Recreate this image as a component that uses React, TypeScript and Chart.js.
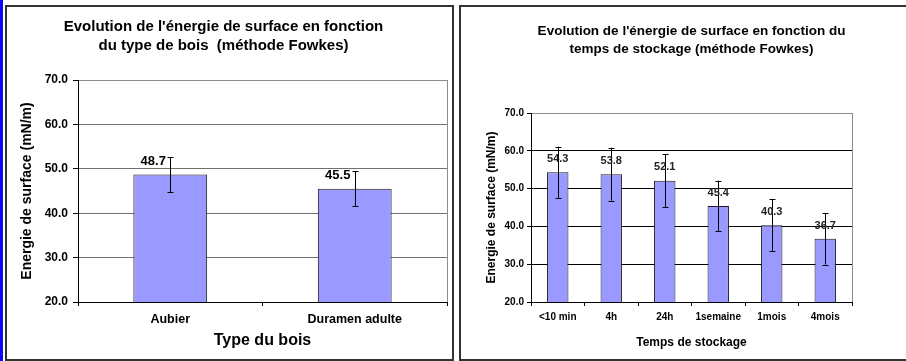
import React, { useEffect, useRef } from 'react';
import { Chart, registerables } from 'chart.js';

Chart.register(...registerables);

const FONT = '"Liberation Sans", Arial, Helvetica, sans-serif';

// ---- Data ----
const woodTypes = ['Aubier', 'Duramen adulte'];
const woodEnergy = [48.7, 45.5];
const woodError = [3.9, 3.9];

const storageTimes = ['<10 min', '4h', '24h', '1semaine', '1mois', '4mois'];
const storageEnergy = [54.3, 53.8, 52.1, 45.4, 40.3, 36.7];
const storageError = [6.8, 7.0, 7.0, 6.7, 6.9, 6.8];

const yMin = 20;
const yMax = 70;
const yStep = 10;

const leftTitle = ["Evolution de l'énergie de surface en fonction", 'du type de bois  (méthode Fowkes)'];
const rightTitle = ["Evolution de l'énergie de surface en fonction du", 'temps de stockage (méthode Fowkes)'];
const yTitle = 'Energie de surface (mN/m)';
const leftXTitle = 'Type du bois';
const rightXTitle = 'Temps de stockage';

// ---- Plugins ----
const errorBarPlugin = {
  id: 'errorBars',
  afterDatasetsDraw(chart: any, _args: any, opts: any) {
    const errs: number[] = opts.errors || [];
    const ctx = chart.ctx;
    const ys = chart.scales.y;
    const ds = chart.data.datasets[0];
    const meta = chart.getDatasetMeta(0);
    ctx.save();
    ctx.strokeStyle = '#000';
    ctx.lineWidth = 1;
    meta.data.forEach((bar: any, i: number) => {
      const v = ds.data[i] as number;
      const e = errs[i];
      if (e == null) return;
      const x = Math.round(bar.x) + 0.5 + (opts.dx || 0);
      const yt = ys.getPixelForValue(v + e);
      const yb = ys.getPixelForValue(v - e);
      const c = opts.cap || 3;
      ctx.beginPath();
      ctx.moveTo(x, yt);
      ctx.lineTo(x, yb);
      ctx.moveTo(x - c, Math.round(yt) + 0.5);
      ctx.lineTo(x + c, Math.round(yt) + 0.5);
      ctx.moveTo(x - c, Math.round(yb) + 0.5);
      ctx.lineTo(x + c, Math.round(yb) + 0.5);
      ctx.stroke();
    });
    ctx.restore();
  },
};

const barLabelPlugin = {
  id: 'barLabels',
  afterDraw(chart: any, _args: any, opts: any) {
    const ctx = chart.ctx;
    const ds = chart.data.datasets[0];
    const meta = chart.getDatasetMeta(0);
    ctx.save();
    ctx.font = opts.font;
    ctx.fillStyle = opts.color || '#000';
    ctx.textAlign = 'center';
    ctx.textBaseline = 'middle';
    meta.data.forEach((bar: any, i: number) => {
      const v = ds.data[i] as number;
      ctx.fillText(v.toFixed(1), bar.x + (opts.dx || 0), bar.y + (opts.dy || 0));
    });
    ctx.restore();
  },
};

type PanelOpts = {
  labels: string[];
  values: number[];
  errors: number[];
  title: string[];
  titleSize: number;
  titleLineHeight: number;
  titlePadTop: number;
  titlePadBottom: number;
  titleFullSize: boolean;
  xTitle: string;
  xTitleSize: number;
  xTitlePad: number;
  yTitleSize: number;
  yTitlePad: number;
  yTickSize: number;
  yTickLen: number;
  yTickPad: number;
  xTickSize: number;
  xTickPad: number;
  gridColor: string;
  padRight: number;
  labelFont: string;
  labelColor: string;
  labelDx: number;
  labelDy: number;
};

function makeConfig(p: PanelOpts): any {
  const frameColor = '#8c8c8c';
  return {
    type: 'bar',
    data: {
      labels: p.labels,
      datasets: [
        {
          data: p.values,
          backgroundColor: '#9999ff',
          borderColor: '#1a1a1a',
          borderWidth: 1,
          borderSkipped: 'bottom',
          barPercentage: 0.4,
          categoryPercentage: 1,
        },
      ],
    },
    options: {
      animation: false,
      responsive: false,
      maintainAspectRatio: false,
      layout: { padding: { top: 0, left: 0, bottom: 0, right: p.padRight } },
      plugins: {
        legend: { display: false },
        tooltip: { enabled: false },
        title: {
          display: true,
          text: p.title,
          color: '#000',
          fullSize: p.titleFullSize,
          font: { family: FONT, size: p.titleSize, weight: 'bold', lineHeight: p.titleLineHeight },
          padding: { top: p.titlePadTop, bottom: p.titlePadBottom },
        },
        errorBars: { errors: p.errors, cap: 3 },
        barLabels: { font: p.labelFont, color: p.labelColor, dx: p.labelDx, dy: p.labelDy },
      },
      scales: {
        x: {
          type: 'category',
          offset: true,
          afterFit(scale: any) {
            scale.height = 59;
          },
          grid: {
            offset: true,
            drawOnChartArea: true,
            drawTicks: true,
            tickLength: 4,
            tickColor: '#000',
            color: (c: any) => (c.index === undefined ? frameColor : 'rgba(0,0,0,0)'),
            lineWidth: 1,
          },
          border: { display: true, color: '#000', width: 1 },
          ticks: {
            color: '#000',
            padding: p.xTickPad,
            maxRotation: 0,
            autoSkip: false,
            font: { family: FONT, size: p.xTickSize, weight: 'bold' },
          },
          title: {
            display: true,
            text: p.xTitle,
            color: '#000',
            font: { family: FONT, size: p.xTitleSize, weight: 'bold', lineHeight: 1.2 },
            padding: { top: 0, bottom: p.xTitlePad },
          },
        },
        y: {
          type: 'linear',
          min: yMin,
          max: yMax,
          afterFit(scale: any) {
            scale.width = 78;
          },
          grid: {
            drawTicks: true,
            tickLength: p.yTickLen,
            tickColor: '#000',
            color: (c: any) => (c.tick && c.tick.value === yMax ? frameColor : p.gridColor),
            lineWidth: 1,
          },
          border: { display: true, color: '#000', width: 1 },
          ticks: {
            stepSize: yStep,
            color: '#000',
            padding: p.yTickPad,
            font: { family: FONT, size: p.yTickSize, weight: 'bold' },
            callback: (v: any) => Number(v).toFixed(1),
          },
          title: {
            display: true,
            text: yTitle,
            color: '#000',
            font: { family: FONT, size: p.yTitleSize, weight: 'bold', lineHeight: 1.2 },
            padding: { top: p.yTitlePad, bottom: 0 },
          },
        },
      },
    },
    plugins: [errorBarPlugin, barLabelPlugin],
  };
}

const leftPanel: PanelOpts = {
  labels: woodTypes,
  values: woodEnergy,
  errors: woodError,
  title: leftTitle,
  titleSize: 15,
  titleLineHeight: 19 / 15,
  titlePadTop: 17.5,
  titlePadBottom: 24.5,
  titleFullSize: true,
  xTitle: leftXTitle,
  xTitleSize: 16,
  xTitlePad: 10.4,
  yTitleSize: 14,
  yTitlePad: 18.6,
  yTickSize: 12,
  yTickLen: 5,
  yTickPad: 5,
  xTickSize: 12.5,
  xTickPad: 6.5,
  gridColor: '#707070',
  padRight: 6,
  labelFont: `bold 13px ${FONT}`,
  labelColor: '#000',
  labelDx: -17,
  labelDy: -13,
};

const rightPanel: PanelOpts = {
  labels: storageTimes,
  values: storageEnergy,
  errors: storageError,
  title: rightTitle,
  titleSize: 13.5,
  titleLineHeight: 18 / 13.5,
  titlePadTop: 22,
  titlePadBottom: 55,
  titleFullSize: false,
  xTitle: rightXTitle,
  xTitleSize: 12,
  xTitlePad: 10.8,
  yTitleSize: 12,
  yTitlePad: 31.8,
  yTickSize: 10,
  yTickLen: 4,
  yTickPad: 3,
  xTickSize: 10,
  xTickPad: 5,
  gridColor: '#000000',
  padRight: 54,
  labelFont: `bold 11px ${FONT}`,
  labelColor: '#222',
  labelDx: 0,
  labelDy: -13.4,
};

function Panel({ cfg, left }: { cfg: PanelOpts; left: number }) {
  const ref = useRef<HTMLCanvasElement | null>(null);
  useEffect(() => {
    if (!ref.current) return;
    const chart = new Chart(ref.current, makeConfig(cfg));
    return () => chart.destroy();
  }, [cfg]);
  return (
    <canvas
      ref={ref}
      width={453}
      height={361}
      style={{ position: 'absolute', left, top: 0, width: 453, height: 361 }}
    />
  );
}

export default function App() {
  return (
    <div
      style={{
        position: 'fixed',
        left: 0,
        top: 0,
        width: 906,
        height: 361,
        overflow: 'hidden',
        background: '#fff',
      }}
    >
      <Panel cfg={leftPanel} left={0} />
      <Panel cfg={rightPanel} left={453} />
      <div style={{ position: 'absolute', left: 0, top: 0, width: 3, height: 361, background: '#0a0aff' }} />
      <div
        style={{
          position: 'absolute',
          left: 5,
          top: 5,
          width: 449,
          height: 356,
          border: '2px solid #333',
          boxSizing: 'border-box',
          pointerEvents: 'none',
        }}
      />
      <div
        style={{
          position: 'absolute',
          left: 459,
          top: 5,
          width: 460,
          height: 356,
          border: '2px solid #333',
          boxSizing: 'border-box',
          pointerEvents: 'none',
        }}
      />
    </div>
  );
}
